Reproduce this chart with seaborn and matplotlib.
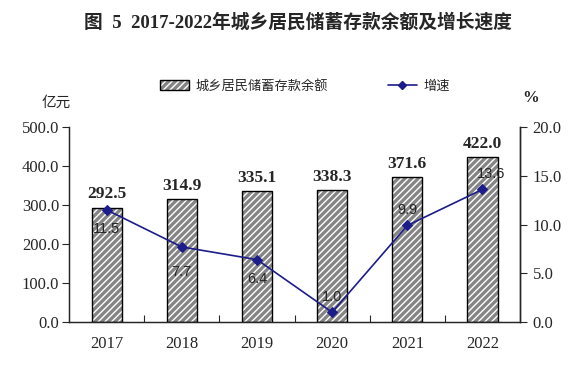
import numpy as np
import pandas as pd
import matplotlib
matplotlib.use('Agg')
import matplotlib.pyplot as plt
import seaborn as sns
from matplotlib.patches import Patch
from matplotlib.lines import Line2D
from matplotlib.ticker import FormatStrFormatter, FixedLocator

# 数据
years = ['2017', '2018', '2019', '2020', '2021', '2022']
savings = [292.5, 314.9, 335.1, 338.3, 371.6, 422.0]
growth = [11.5, 7.7, 6.4, 1.0, 9.9, 13.6]

# 增速标签偏移 (points)
growth_offsets = [(0, -14), (0, -18), (0, -14), (0, 11), (0, 11), (6, 11)]

sns.set_style('ticks')
plt.rcParams['font.family'] = ['Liberation Serif', 'Noto Sans CJK SC', 'DejaVu Sans']
plt.rcParams['hatch.linewidth'] = 1.0

df = pd.DataFrame({'year': years, 'savings': savings, 'growth': growth})

fig = plt.figure(figsize=(5.82, 3.74), dpi=100)
ax = fig.add_axes([0.1186, 0.139, 0.775, 0.5214])

bar_face = '#858585'
sns.barplot(data=df, x='year', y='savings', color=bar_face, width=0.4,
            edgecolor='white', linewidth=0, hatch='/////', saturation=1, ax=ax)
ax.bar(np.arange(len(years)), savings, width=0.4, fill=False,
       edgecolor='black', linewidth=1.0, zorder=3)

for i, v in enumerate(savings):
    ax.annotate(f'{v:.1f}', (i, v), xytext=(0, 4), textcoords='offset points',
                ha='center', va='bottom', fontsize=12.5, fontweight='bold')

ax.set_xlim(-0.5, 5.5)
ax.set_ylim(0, 500)
ax.set_yticks(np.arange(0, 501, 100))
ax.yaxis.set_major_formatter(FormatStrFormatter('%.1f'))
ax.set_xlabel('')
ax.set_ylabel('')
ax.tick_params(axis='x', which='major', length=0, pad=10, labelsize=12)
ax.xaxis.set_minor_locator(FixedLocator(np.arange(0.5, 5, 1)))
ax.tick_params(axis='x', which='minor', direction='in', length=5, width=0.8)
ax.tick_params(axis='y', direction='out', length=5, width=0.8, labelsize=12, pad=2)
ax.spines['top'].set_visible(False)
for s in ['left', 'bottom', 'right']:
    ax.spines[s].set_linewidth(1.0)

ax2 = ax.twinx()
line_color = '#1c1c8a'
sns.lineplot(x=np.arange(len(years)), y=growth, ax=ax2, color=line_color,
             marker='D', markersize=5, markeredgecolor=line_color, linewidth=1.2)
for i, v in enumerate(growth):
    ax2.annotate(f'{v:.1f}', (i, v), xytext=growth_offsets[i], textcoords='offset points',
                 ha='center', va='center', fontsize=10.5, family='Liberation Sans')
ax2.set_ylim(0, 20)
ax2.set_yticks(np.arange(0, 21, 5))
ax2.yaxis.set_major_formatter(FormatStrFormatter('%.1f'))
ax2.tick_params(axis='y', direction='out', length=5, width=0.8, labelsize=12, pad=4)
ax2.spines['top'].set_visible(False)
ax2.spines['right'].set_linewidth(1.0)
ax2.set_xlim(-0.5, 5.5)

fig.text(0.512, 0.94, '图  5  2017-2022年城乡居民储蓄存款余额及增长速度',
         ha='center', va='center', fontsize=13.5, fontweight='bold')
fig.text(0.096, 0.725, '亿元', ha='center', va='center', fontsize=10.5,
         family=['Noto Sans CJK SC'])
fig.text(0.912, 0.738, '%', ha='center', va='center', fontsize=12, fontweight='bold')

h_bar = (Patch(facecolor=bar_face, edgecolor='white', linewidth=0, hatch='/////'),
         Patch(facecolor='none', edgecolor='black', linewidth=1.0))
h_line = Line2D([], [], color=line_color, marker='D', markersize=4, linewidth=1.2)
fig.legend([h_bar, h_line], ['城乡居民储蓄存款余额', '增速'], loc='center',
           bbox_to_anchor=(0.524, 0.77), ncol=2, frameon=False,
           handlelength=2.2, handletextpad=0.5, columnspacing=4.5,
           prop={'family': ['Noto Sans CJK SC'], 'size': 9.5})

fig.savefig('out.png', dpi=100)
